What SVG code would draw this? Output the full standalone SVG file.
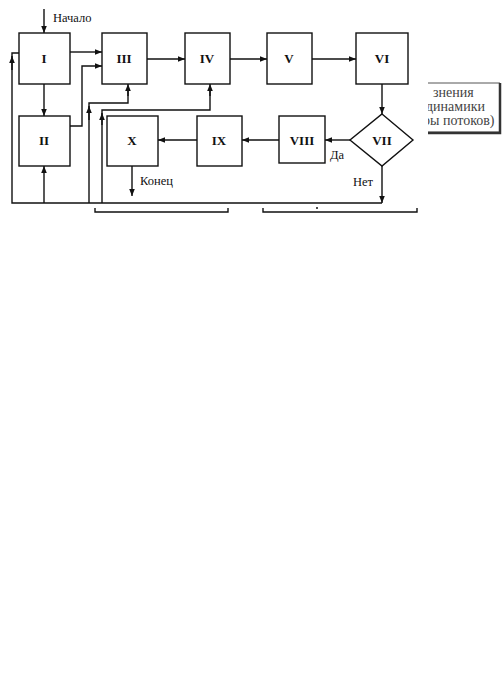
<svg xmlns="http://www.w3.org/2000/svg" width="502" height="692" viewBox="0 0 502 692">
<defs>
<marker id="ar" viewBox="0 0 10 10" refX="10" refY="5" markerWidth="7" markerHeight="7" markerUnits="userSpaceOnUse" orient="auto">
<path d="M0,1 L10,5 L0,9 Z" fill="#111"/>
</marker>
<clipPath id="tbclip"><rect x="428" y="83" width="74" height="50"/></clipPath>
</defs>
<style>
.box{fill:#fff;stroke:#111;stroke-width:1.4}
.lbl{font-family:"Liberation Serif",serif;font-size:13px;font-weight:bold;fill:#111;text-anchor:middle}
.txt{font-family:"Liberation Serif",serif;font-size:12.5px;fill:#111}
.gtxt{font-family:"Liberation Serif",serif;font-size:14px;fill:#444}
.ln{fill:none;stroke:#111;stroke-width:1.4}
.arr{fill:none;stroke:#111;stroke-width:1.4;marker-end:url(#ar)}
</style>
<rect width="502" height="692" fill="#fff"/>

<g id="connectors">
<path class="arr" d="M44,9 V33"/>
<path class="arr" d="M70,52 H102"/>
<path class="arr" d="M44,84 V116"/>
<path class="arr" d="M70,126 H82 V66 H102"/>
<path class="arr" d="M147,59 H185"/>
<path class="arr" d="M230,59 H267"/>
<path class="arr" d="M312,59 H356"/>
<path class="arr" d="M382,84 V114"/>
<path class="arr" d="M350,140 H325"/>
<path class="arr" d="M279,140 H242"/>
<path class="arr" d="M197,140 H158"/>
<path class="arr" d="M132,166 V196"/>
<path class="arr" d="M382,165 V203"/>
<path class="ln" d="M382,203 H12 V53 H19"/>
<path class="arr" d="M12,70 V56"/>
<path class="arr" d="M44,203 V166"/>
<path class="ln" d="M89,203 V103 H128 V88"/>
<path class="arr" d="M89,120 V106"/>
<path class="arr" d="M128,96 V84"/>
<path class="ln" d="M102,203 V110 H210 V90"/>
<path class="arr" d="M102,125 V113"/>
<path class="arr" d="M210,96 V84"/>
<path class="ln" d="M95,208 V212 H228 V208"/>
<path class="ln" d="M263,208 V212 H417 V208"/>
<path class="ln" d="M316,208 H318"/>
</g>

<g id="n1"><rect class="box" x="19" y="33" width="51" height="51"/><text class="lbl" x="44" y="63">I</text></g>
<g id="n2"><rect class="box" x="19" y="116" width="51" height="50"/><text class="lbl" x="44" y="145">II</text></g>
<g id="n3"><rect class="box" x="102" y="33" width="45" height="51"/><text class="lbl" x="124" y="63">III</text></g>
<g id="n4"><rect class="box" x="185" y="33" width="45" height="51"/><text class="lbl" x="207" y="63">IV</text></g>
<g id="n5"><rect class="box" x="267" y="33" width="45" height="51"/><text class="lbl" x="289" y="63">V</text></g>
<g id="n6"><rect class="box" x="356" y="33" width="52" height="51"/><text class="lbl" x="382" y="63">VI</text></g>
<g id="n7"><path class="box" d="M382,114 L413,140 L382,166 L350,140 Z"/><text class="lbl" x="382" y="145">VII</text></g>
<g id="n8"><rect class="box" x="279" y="116" width="46" height="47"/><text class="lbl" x="302" y="145">VIII</text></g>
<g id="n9"><rect class="box" x="197" y="116" width="45" height="50"/><text class="lbl" x="219" y="145">IX</text></g>
<g id="n10"><rect class="box" x="107" y="116" width="51" height="50"/><text class="lbl" x="132" y="145">X</text></g>

<g id="labels">
<text class="txt" x="53" y="22">Начало</text>
<text class="txt" x="140" y="185">Конец</text>
<text class="txt" x="330" y="159">Да</text>
<text class="txt" x="353" y="186">Нет</text>
</g>

<g id="note">
<path d="M428,83 H500 V132 H428" fill="none" stroke="#555" stroke-width="1"/>
<path d="M500,83 V133 H428" fill="none" stroke="#333" stroke-width="2.5"/>
<g clip-path="url(#tbclip)">
<text class="gtxt" x="433" y="97">знения</text>
<text class="gtxt" x="426" y="111">динамики</text>
<text class="gtxt" x="423" y="125">ры потоков)</text>
</g>
</g>
</svg>
